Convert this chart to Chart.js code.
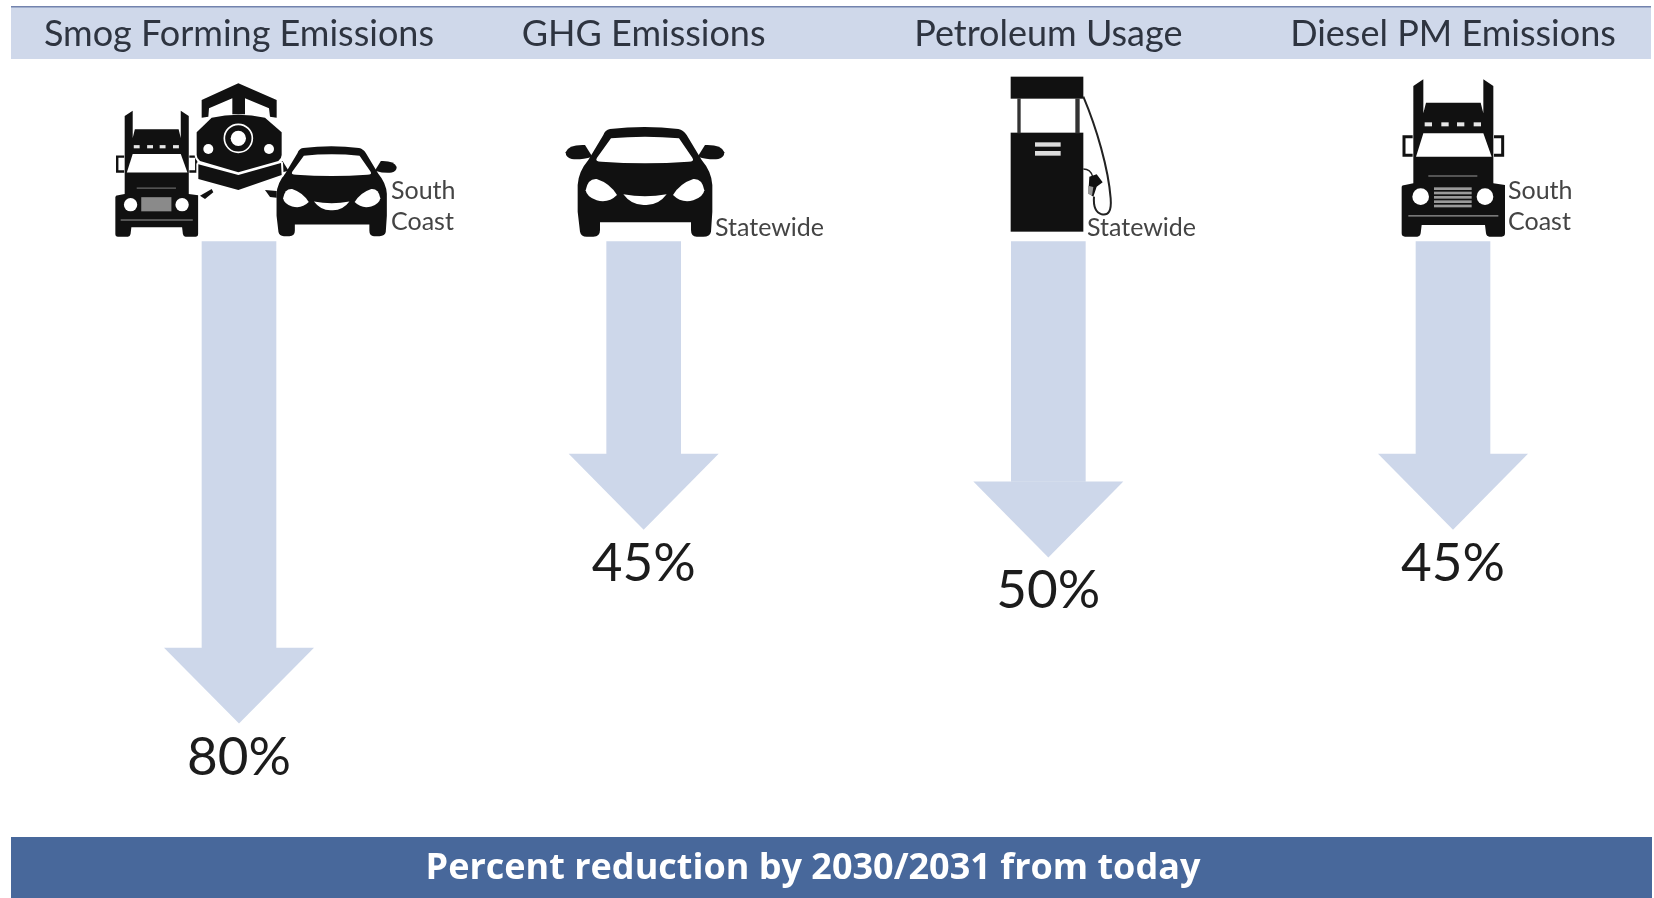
<!DOCTYPE html>
<html lang="en">
<head>
    <meta charset="UTF-8">
    <title>Percent reduction by 2030/2031 from today</title>
    <style>
        html, body { margin: 0; height: 100%; background: #ffffff; overflow: hidden; }
        canvas { display: block; filter: blur(0.7px); }
    </style>
    <script src="https://cdn.jsdelivr.net/npm/chart.js"></script>
</head>
<body>
    <canvas id="myChart" width="1654" height="898"></canvas>
    <script>
        const categories = ['Smog Forming Emissions', 'GHG Emissions', 'Petroleum Usage', 'Diesel PM Emissions'];
        const reductions = [80, 45, 50, 45];
        const regions = [['South', 'Coast'], ['Statewide'], ['Statewide'], ['South', 'Coast']];
        const footerText = 'Percent reduction by 2030/2031 from today';

        const shaftTop = -7;
        const headDepth = 13.7;
        const INK = '#111111';
        const PALE = '#cdd7ea';

        function fillPath(ctx, d, color) {
            ctx.fillStyle = color || INK;
            ctx.fill(new Path2D(d));
        }

        function dot(ctx, x, y, r, color) {
            ctx.fillStyle = color;
            ctx.beginPath();
            ctx.arc(x, y, r, 0, Math.PI * 2);
            ctx.fill();
        }

        // car front, drawn in a 540 wide box (centre 270)
        function drawCar(ctx) {
            fillPath(ctx, 'M165 42Q270 30 370 42Q385 45 395 60L440 135Q470 170 472 210L472 290L468 350Q465 365 445 365L425 365Q408 365 408 345L408 322L135 322L135 345Q135 365 115 365L95 365Q78 365 75 350L68 290L68 210Q70 170 100 135L145 60Q150 45 165 42Z');
            for (let side = 0; side < 2; side++) {
                ctx.save();
                if (side) { ctx.translate(540, 0); ctx.scale(-1, 1); }
                fillPath(ctx, 'M32 112Q40 88 90 90L112 125Q75 136 50 132Q32 128 32 112Z');
                fillPath(ctx, 'M92 226Q98 190 125 192Q165 205 186 240Q160 266 125 256Q95 246 92 226Z', '#ffffff');
                ctx.restore();
            }
            fillPath(ctx, 'M168 70Q270 60 372 70L412 128Q420 140 400 140Q270 150 140 140Q118 140 126 128Z', '#ffffff');
            fillPath(ctx, 'M205 238Q270 250 335 238Q310 272 270 270Q230 272 205 238Z', '#ffffff');
        }

        // truck front, drawn around x = 190
        function drawTruck(ctx, plainGrille) {
            fillPath(ctx, 'M70 48L100 28L100 130L108 98L272 98L280 130L280 28L310 48L310 340L345 345L345 490Q345 500 335 500L298 500Q290 500 288 490L285 465L95 465L92 490Q90 500 82 500L45 500Q35 500 35 490L35 352Q35 345 45 345L70 340Z');
            fillPath(ctx, 'M100 190L280 190L305 260L78 260Z', '#ffffff');
            ctx.strokeStyle = INK;
            ctx.lineWidth = 9;
            ctx.stroke(new Path2D('M68 200L42 200L42 256L68 256M312 200L338 200L338 256L312 256'));
            [115, 165, 212, 262].forEach(x => {
                ctx.fillStyle = '#e6e6e6';
                ctx.fillRect(x - 11, 157, 22, 12);
            });
            dot(ctx, 92, 380, 25, '#ffffff');
            dot(ctx, 285, 380, 25, '#ffffff');
            ctx.fillStyle = '#777777';
            ctx.fillRect(115, 316, 147, 4);
            ctx.fillRect(55, 435, 270, 5);
            if (plainGrille) {
                ctx.fillStyle = '#8a8a8a';
                ctx.fillRect(132, 352, 113, 53);
            } else {
                ctx.fillStyle = '#9a9a9a';
                for (let y = 352; y < 405; y += 13) ctx.fillRect(132, y, 113, 8);
            }
        }

        // locomotive front, drawn around x = 400
        function drawTrain(ctx) {
            const shapes = [
                'M290 128L290 75L400 25L515 75L515 128L495 125L492 100L420 70L420 118L382 118L382 70L312 100L310 125Z',
                'M275 172L320 128Q400 110 480 128L530 172L530 240Q530 250 520 258L400 292L285 258Q275 250 275 240Z',
                'M280 268L400 300L528 264L530 300L400 345L280 312Z'
            ];
            ctx.strokeStyle = '#ffffff';
            ctx.lineWidth = 12;
            ctx.lineJoin = 'round';
            shapes.forEach(d => ctx.stroke(new Path2D(d)));
            shapes.forEach(d => fillPath(ctx, d));
            ctx.strokeStyle = '#ffffff';
            ctx.lineWidth = 5;
            ctx.beginPath();
            ctx.arc(400, 190, 42, 0, Math.PI * 2);
            ctx.stroke();
            dot(ctx, 400, 190, 23, '#ffffff');
            dot(ctx, 310, 222, 15, '#ffffff');
            dot(ctx, 492, 222, 15, '#ffffff');
            fillPath(ctx, 'M285 362L320 342L325 352L300 372Z');
            fillPath(ctx, 'M480 345L515 348L515 368L495 366Z');
        }

        function drawPump(ctx) {
            ctx.fillStyle = INK;
            ctx.fillRect(32, 35, 218, 66);
            ctx.fillRect(32, 203, 218, 297);
            ctx.fillStyle = '#333333';
            ctx.fillRect(52, 100, 10, 105);
            ctx.fillRect(226, 100, 13, 105);
            ctx.fillStyle = '#dddddd';
            ctx.fillRect(105, 232, 77, 13);
            ctx.fillRect(105, 258, 77, 14);
            ctx.strokeStyle = '#222222';
            ctx.lineWidth = 6;
            ctx.stroke(new Path2D('M250 95C290 190 325 310 332 400C335 440 325 452 305 448C285 442 280 420 282 395'));
            ctx.lineWidth = 4;
            ctx.stroke(new Path2D('M250 312Q272 312 278 335'));
            fillPath(ctx, 'M268 335L290 328L308 352L290 365L280 395L265 385Z');
            fillPath(ctx, 'M264 362L280 366L276 392L264 386Z', '#999999');
        }

        function drawIcon(ctx, ox, oy, s, draw) {
            ctx.save();
            ctx.translate(ox, oy);
            ctx.scale(s, s);
            draw(ctx);
            ctx.restore();
        }

        const infographic = {
            id: 'infographic',
            beforeDraw(chart) {
                const ctx = chart.ctx;
                ctx.save();
                ctx.fillStyle = '#cfd8ea';
                ctx.fillRect(11, 7, 1640, 52);
                ctx.fillStyle = '#7383ad';
                ctx.fillRect(11, 6, 1640, 1.5);
                ctx.fillStyle = '#48689b';
                ctx.fillRect(11, 837, 1641, 61);
                ctx.restore();
            },
            afterDraw(chart) {
                const ctx = chart.ctx;
                const y = chart.scales.y;
                const bars = chart.getDatasetMeta(0).data;
                ctx.save();
                // arrow heads and percent labels
                bars.forEach((bar, i) => {
                    const tip = y.getPixelForValue(reductions[i]);
                    const base = y.getPixelForValue(reductions[i] - headDepth);
                    ctx.fillStyle = PALE;
                    ctx.beginPath();
                    ctx.moveTo(bar.x - 75, base);
                    ctx.lineTo(bar.x + 75, base);
                    ctx.lineTo(bar.x, tip);
                    ctx.closePath();
                    ctx.fill();
                    ctx.fillStyle = '#1c1c1c';
                    ctx.font = '53px Lato';
                    ctx.textAlign = 'center';
                    ctx.textBaseline = 'middle';
                    ctx.fillText(reductions[i] + '%', bar.x, tip + 34);
                });

                drawIcon(ctx, 106, 103.2, 0.267, c => drawTruck(c, true));
                drawIcon(ctx, 331.7 - 270 * 0.273, 148 - 42 * 0.273, 0.273, drawCar);
                drawIcon(ctx, 105, 75, 1 / 3, drawTrain);
                drawIcon(ctx, 555, 115, 1 / 3, drawCar);
                drawIcon(ctx, 1000, 65, 1 / 3, drawPump);
                drawIcon(ctx, 1390, 70, 1 / 3, c => drawTruck(c, false));

                // region notes next to the icons
                ctx.fillStyle = '#444444';
                ctx.font = '25px Lato';
                ctx.textAlign = 'left';
                ctx.textBaseline = 'middle';
                const noteX = [391, 715, 1087, 1508];
                regions.forEach((lines, i) => {
                    if (lines.length === 2) {
                        ctx.fillText(lines[0], noteX[i], 191);
                        ctx.fillText(lines[1], noteX[i], 222);
                    } else {
                        ctx.fillText(lines[0], noteX[i], 228);
                    }
                });

                ctx.fillStyle = '#ffffff';
                ctx.font = 'bold 36px "Open Sans"';
                ctx.textAlign = 'center';
                ctx.fillText(footerText, 813, 869);
                ctx.restore();
            }
        };

        new Chart(document.getElementById('myChart'), {
            type: 'bar',
            data: {
                labels: categories,
                datasets: [{
                    data: reductions.map(v => [shaftTop, v - headDepth]),
                    backgroundColor: PALE,
                    borderWidth: 0,
                    barThickness: 74,
                    clip: false
                }]
            },
            options: {
                responsive: false,
                animation: false,
                layout: { padding: { left: 239, right: 201, top: 0, bottom: 119 } },
                plugins: { legend: { display: false }, tooltip: { enabled: false } },
                scales: {
                    x: {
                        position: 'top',
                        offset: false,
                        grid: { display: false, drawTicks: false },
                        border: { display: false },
                        afterFit(scale) {
                            scale.height = 225;
                            scale.paddingLeft = 0;
                            scale.paddingRight = 0;
                        },
                        ticks: {
                            autoSkip: false,
                            maxRotation: 0,
                            padding: 169,
                            color: '#2e3440',
                            font: { family: 'Lato', size: 36 }
                        }
                    },
                    y: { display: false, reverse: true, min: -10, max: 90 }
                }
            },
            plugins: [infographic]
        });
    </script>
</body>
</html>
